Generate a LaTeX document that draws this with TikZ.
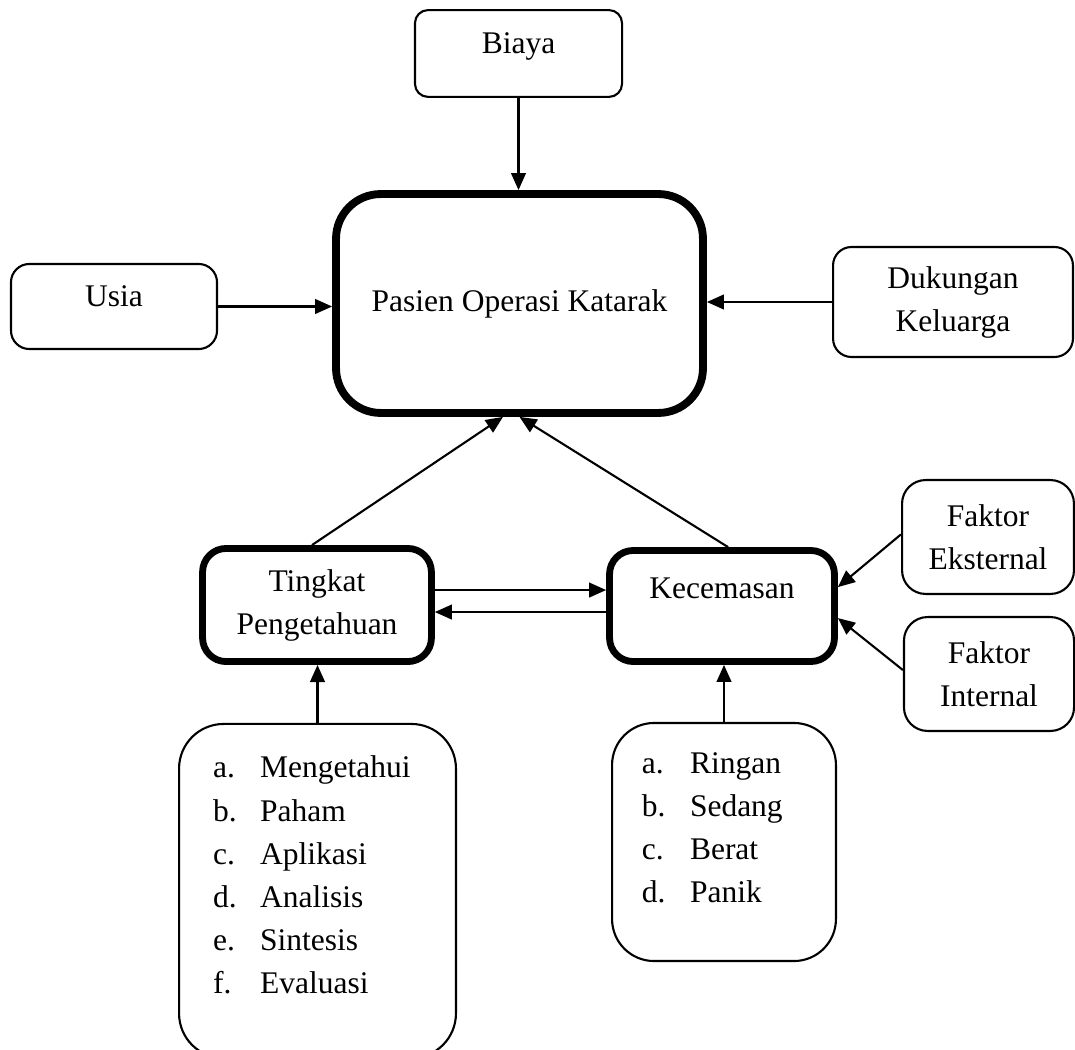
\documentclass[tikz,border=0pt]{standalone}
\usepackage{fontspec}
\setmainfont{Liberation Serif}
\usetikzlibrary{arrows.meta,positioning,calc}
\usetikzlibrary{shapes}

\newcommand{\diagfont}{\fontsize{12}{16.4}\selectfont}

\tikzset{
  % thin rounded boxes round the outer factors
  block/.style={draw, rectangle, rounded corners=7pt, align=center,
  font=\diagfont},
  mainblock/.style={block, line width=3pt, rounded corners=17pt},
  keyblock/.style={block, line width=2.6pt, rounded corners=9pt},
  listblock/.style={draw, rectangle, rounded corners=16pt, inner sep=0pt,
  font=\diagfont}}

\begin{document}
\begin{tikzpicture}[%
    x=0.381pt, y=-0.381pt,      % one unit = one pixel of the sketch
    >={Triangle[length=6.5pt,width=5.6pt]},
    line width=0.8pt,
    ]

\useasboundingbox (0,0) rectangle (1075,1050);

\node (main) [mainblock, minimum width=139.8pt, minimum height=83.4pt]
  at (519.5,303.5) {Pasien Operasi Katarak};

\node (biaya) [block, rounded corners=5pt, minimum width=78.9pt, minimum height=33.1pt,
  text height=8.5pt, text depth=8.5pt] at (518.5,53.5) {Biaya};

\node (usia) [block, minimum width=78.5pt, minimum height=32.4pt,
  text height=8.5pt, text depth=8.5pt] at (114,306.5) {Usia};

\node (dukungan) [block, minimum width=91.4pt, minimum height=41.9pt]
  at (953,302) {Dukungan\\Keluarga};

\node (tingkat) [keyblock, minimum width=87.2pt, minimum height=43.1pt]
  at (317,605) {Tingkat\\Pengetahuan};

\node (kecemasan) [keyblock, minimum width=85.7pt, minimum height=42.3pt,
  text height=8.5pt, text depth=14.5pt] at (722,606) {Kecemasan};

\node (eksternal) [block, rounded corners=9pt, minimum width=65.5pt, minimum height=43.4pt]
  at (988,537) {Faktor\\Eksternal};

\node (internal) [block, rounded corners=9pt, minimum width=64.8pt, minimum height=43.4pt]
  at (989,674) {Faktor\\Internal};

% lists of levels, text at the top of the box
\node (tahu) [listblock, rounded corners=17pt] at (317.5,891)
{\begin{minipage}[c][127.3pt][t]{105.5pt}
\vspace{9.1pt}\hspace*{13pt}\begin{tabular}[t]{@{}p{17.9pt}@{}l@{}}
a. & Mengetahui\\
b. & Paham\\
c. & Aplikasi\\
d. & Analisis\\
e. & Sintesis\\
f. & Evaluasi
\end{tabular}
\end{minipage}};

\node (cemas) [listblock] at (724,842)
{\begin{minipage}[c][90.7pt][t]{85.3pt}
\vspace{7.6pt}\hspace*{11.4pt}\begin{tabular}[t]{@{}p{18.3pt}@{}l@{}}
a. & Ringan\\
b. & Sedang\\
c. & Berat\\
d. & Panik
\end{tabular}
\end{minipage}};

\draw [->] (biaya.south) -- (biaya.south |- main.north);
\draw [->] (usia.east) -- (usia.east -| main.west);
\draw [->] (dukungan.west) -- (dukungan.west -| main.east);
\draw [->] ([xshift=-1.9pt]tingkat.north) -- ([xshift=-6.3pt]main.south);
\draw [->] ([xshift=2.3pt]kecemasan.north) -- (main.south);

% two way link between the key boxes
\draw [->] ([yshift=5.7pt]tingkat.east) -- ([yshift=5.7pt]tingkat.east -| kecemasan.west);
\draw [->] ([yshift=-2.3pt]kecemasan.west) -- ([yshift=-2.3pt]kecemasan.west -| tingkat.east);

\draw [->] ([yshift=1pt]eksternal.west) -- ([yshift=7.2pt]kecemasan.east);
\draw [->] ([yshift=1.5pt]internal.west) -- ([yshift=-4.6pt]kecemasan.east);

\draw [->] (tahu.north) -- (tahu.north |- tingkat.south);
\draw [->] (cemas.north) -- (cemas.north |- kecemasan.south);

\end{tikzpicture}
\end{document}
